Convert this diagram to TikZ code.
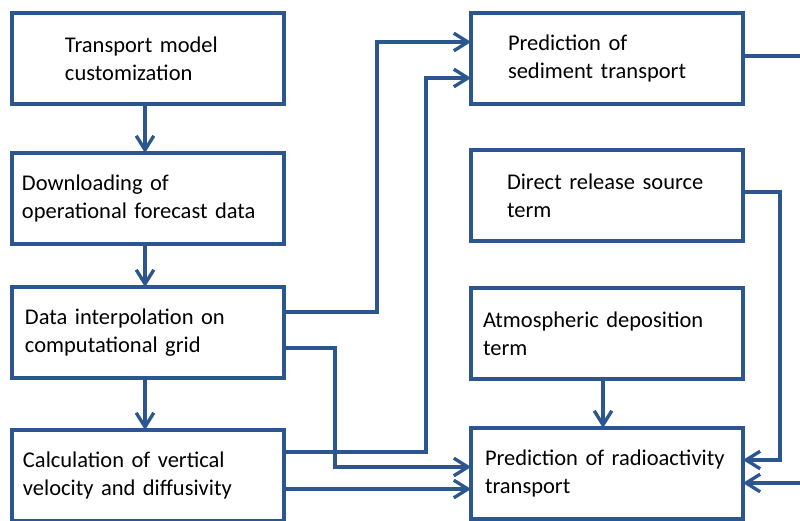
\documentclass[tikz,border=0pt]{standalone}
\usepackage{fontspec}
\setmainfont{Carlito}
\usetikzlibrary{arrows.meta}
\definecolor{box_blue}{HTML}{2C5690}

\begin{document}
\begin{tikzpicture}[x=0.02cm,y=-0.02cm,>={Straight Barb[length=8pt,width=10pt]},
    block/.style 2 args={draw=box_blue, line width=1.9pt, outer sep=0pt, anchor=north west,
        minimum height=1.82cm, align=left, inner xsep=#1, text width=#2,
        font=\fontsize{12.8}{15.9}\selectfont},
    flow/.style={draw=box_blue, line width=1.9pt, ->},
    link/.style={draw=box_blue, line width=1.9pt}]

        % Cadre de la figure
        \useasboundingbox (0,0) rectangle (800,520);
        \clip (0,0) rectangle (800,520);

        % Blocs de gauche
        \node[block={1.06cm}{3.32cm}] (custom) at (12,13) {Transport model\\customization};
        \node[block={0.2cm}{5.04cm}] (download) at (12,153) {Downloading of\\operational forecast data};
        \node[block={0.26cm}{4.92cm}] (interp) at (12,287) {Data interpolation on\\computational grid};
        \node[block={0.22cm}{5cm}] (vertical) at (12,430) {Calculation of vertical\\velocity and diffusivity};

        % Blocs de droite
        \node[block={0.74cm}{3.96cm}] (sediment) at (471,13) {Prediction of\\sediment transport};
        \node[block={0.72cm}{4cm}] (release) at (471,150) {Direct release source\\term};
        \node[block={0.24cm}{4.96cm}] (atmos) at (471,288) {Atmospheric deposition\\term};
        \node[block={0.28cm}{4.88cm}] (radio) at (471,428) {Prediction of radioactivity\\transport};

        % Points hors du cadre
        \coordinate (outtop) at (810,56);
        \coordinate (outbot) at (810,483);

        % Enchainement de gauche
        \draw[flow] (custom.south -| 145,0) -- (download.north -| 145,0);
        \draw[flow] (download.south -| 145,0) -- (interp.north -| 145,0);
        \draw[flow] (interp.south -| 145,0) -- (vertical.north -| 145,0);

        % Liaisons vers la droite
        \draw[flow] (interp.east |- 0,312) -- (377,312) |- (sediment.west |- 0,42);
        \draw[flow] (vertical.east |- 0,452) -- (426,452) |- (sediment.west |- 0,78);
        \draw[flow] (interp.east |- 0,348) -- (335,348) |- (radio.west |- 0,467);
        \draw[flow] (vertical.east |- 0,489) -- (radio.west |- 0,489);
        \draw[flow] (atmos.south -| 603,0) -- (radio.north -| 603,0);
        \draw[flow] (release.east |- 0,192) -- (780,192) |- (radio.east |- 0,460);
        \draw[link] (sediment.east |- 0,56) -- (outtop);
        \draw[flow] (outbot) -- (radio.east |- 0,483);
    \end{tikzpicture}
\end{document}
